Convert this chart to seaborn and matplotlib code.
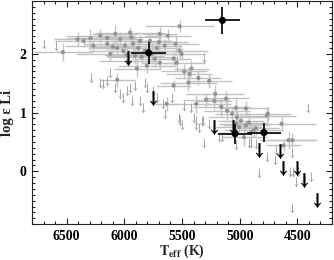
import numpy as np
import pandas as pd
import matplotlib
matplotlib.use("Agg")
import matplotlib.pyplot as plt
import seaborn as sns
from matplotlib.ticker import MultipleLocator

# ---- gray detections (Teff, logeps, xerr, yerr)
gray_teff = [6534, 6406, 6354, 6294, 6208, 6148, 6079, 5951, 6062, 5925, 5865, 6122, 6148,
             6062, 5891, 5805, 5719, 5693, 5521, 5556, 5521, 5504, 5573, 5547, 5436, 5418,
             5358, 5444, 5264, 5573, 5212, 5290, 5221, 5118, 5376, 5633, 5109, 5066, 5024,
             4946, 4921, 5006, 4766, 4637, 4963, 5032, 4946, 4903, 4860, 4577, 4543, 4620,
             4757, 5032, 5994, 5822, 6036, 5908, 5779, 5650, 5736, 5968, 5624, 6268, 5693,
             6010, 5880, 5760, 5940, 6100, 5850, 5700, 5980, 5480, 5160, 4990, 4880]
gray_li = [2.03, 2.25, 2.22, 2.27, 2.31, 2.27, 2.34, 2.36, 2.10, 2.17, 2.22, 2.00, 2.17,
           1.56, 1.75, 1.80, 2.10, 2.34, 2.47, 2.17, 2.05, 2.00, 1.92, 1.85, 1.66, 1.75,
           1.59, 1.51, 1.54, 1.46, 1.32, 1.22, 1.20, 1.24, 1.15, 1.15, 1.03, 0.98, 0.92,
           1.07, 0.83, 0.75, 0.95, 0.81, 0.58, 0.81, 0.78, 0.66, 0.73, 0.53, 0.53, 0.44,
           0.98, 1.08, 2.14, 2.05, 2.25, 1.97, 2.22, 2.14, 1.92, 1.88, 2.31, 2.14, 1.85,
           2.05, 2.10, 2.00, 2.28, 2.12, 1.95, 2.20, 1.98, 1.70, 1.10, 0.86, 0.70]
gray_xerr = [250, 200, 250, 200, 300, 250, 200, 300, 250, 200, 250, 300, 200,
             150, 200, 250, 200, 150, 300, 200, 250, 200, 150, 250, 200, 150,
             200, 250, 200, 150, 250, 200, 150, 200, 300, 100, 200, 150, 250,
             200, 150, 200, 250, 300, 200, 150, 200, 250, 200, 250, 200, 150,
             200, 150, 250, 300, 200, 250, 200, 150, 200, 250, 200, 250, 150,
             300, 250, 200, 250, 200, 300, 250, 200, 200, 250, 200, 250]
gray_yerr = [0.15, 0.12, 0.10, 0.15, 0.12, 0.10, 0.15, 0.10, 0.12, 0.15, 0.10, 0.12, 0.10,
             0.12, 0.15, 0.12, 0.10, 0.12, 0.10, 0.15, 0.12, 0.10, 0.12, 0.15, 0.12, 0.15,
             0.12, 0.15, 0.12, 0.10, 0.15, 0.12, 0.15, 0.12, 0.15, 0.12, 0.15, 0.12, 0.10,
             0.12, 0.15, 0.12, 0.15, 0.12, 0.15, 0.12, 0.10, 0.15, 0.12, 0.15, 0.12, 0.10,
             0.12, 0.15, 0.12, 0.10, 0.12, 0.15, 0.10, 0.12, 0.15, 0.10, 0.12, 0.10, 0.12,
             0.12, 0.10, 0.15, 0.12, 0.10, 0.12, 0.15, 0.12, 0.12, 0.15, 0.12, 0.12]

# ---- gray upper limits
glim_teff = [6697, 6594, 6285, 6208, 6182, 6148, 6122, 6079, 6036, 6011, 5976, 5951, 5933,
             5908, 5865, 5822, 5805, 5753, 5719, 5667, 5839, 5307, 5590, 5487, 5418, 5530,
             5504, 5393, 5315, 5264, 4406, 5650, 5521, 5376, 5324, 5350, 5307, 5178, 5032,
             4921, 5376, 5152, 4903, 4860, 4766, 4697, 4689, 4543, 4835, 4560, 4534, 4491,
             4509, 4448, 4380, 4551]
glim_li = [2.17, 2.14, 1.59, 1.51, 1.49, 1.54, 1.68, 1.42, 1.32, 1.25, 1.37, 1.42, 1.20,
           1.46, 1.20, 1.51, 1.42, 1.37, 1.25, 1.15, 1.08, 1.93, 1.25, 1.12, 1.08, 0.90,
           0.78, 0.90, 0.86, 0.81, 1.07, 0.98, 0.86, 0.86, 0.86, 0.73, 0.49, 0.58, 0.44,
           0.49, 0.78, 0.58, 0.49, 0.47, 0.24, 0.19, 0.36, 0.31, -0.03, -0.02, -0.02, -0.02,
           -0.19, -0.12, -0.10, -0.63]

# ---- black detections
blk_teff = [5150, 5790, 5040, 4790]
blk_li = [2.57, 2.02, 0.64, 0.66]
blk_xerr = [150, 150, 150, 150]
blk_yerr = [0.23, 0.19, 0.17, 0.16]

# ---- black upper limits
blim_teff = [5968, 5753, 5221, 5058, 4835, 4654, 4629, 4500, 4440, 4328]
blim_li = [1.93, 1.25, 0.76, 0.75, 0.36, 0.34, 0.05, 0.05, -0.14, -0.49]

sns.set_theme(style="ticks")
plt.rcParams["font.family"] = ["Liberation Serif", "DejaVu Serif"]
plt.rcParams["font.weight"] = "bold"
plt.rcParams["axes.labelweight"] = "bold"
plt.rcParams["mathtext.fontset"] = "stix"

fig = plt.figure(figsize=(3.34, 2.60), dpi=100)
ax = fig.add_axes([0.096, 0.138, 0.898, 0.858])

ax.errorbar(gray_teff, gray_li, xerr=gray_xerr, yerr=gray_yerr, fmt="none",
            ecolor="#c2c2c2", elinewidth=1.0, capsize=0, zorder=1)
sns.scatterplot(x=gray_teff, y=gray_li, ax=ax, color="#939393", s=9,
                edgecolor="none", zorder=2)
sns.scatterplot(x=glim_teff, y=glim_li, ax=ax, marker=r"$\downarrow$", s=50,
                color="#a8a8a8", edgecolor="#a8a8a8", linewidth=0.0, zorder=2)

ax.errorbar(blk_teff, blk_li, xerr=blk_xerr, yerr=blk_yerr, fmt="none",
            ecolor="#111111", elinewidth=1.3, capsize=0, zorder=4)
sns.scatterplot(x=blk_teff, y=blk_li, ax=ax, color="black", s=26,
                edgecolor="none", zorder=5)
sns.scatterplot(x=blim_teff, y=blim_li, ax=ax, marker=r"$\downarrow$", s=110,
                color="black", edgecolor="black", linewidth=0.25, zorder=5)

ax.set_xlim(6800, 4200)
ax.set_ylim(-0.9, 2.9)
ax.xaxis.set_major_locator(MultipleLocator(500))
ax.xaxis.set_minor_locator(MultipleLocator(100))
ax.yaxis.set_major_locator(MultipleLocator(1))
ax.yaxis.set_minor_locator(MultipleLocator(0.1))
ax.tick_params(which="both", direction="in", top=True, right=True, labelsize=10,
               width=0.8, colors="#222222", labelcolor="black")
ax.tick_params(which="major", length=4, pad=4)
ax.tick_params(which="minor", length=2)
for lab in ax.get_xticklabels() + ax.get_yticklabels():
    lab.set_fontweight("bold")
for sp in ax.spines.values():
    sp.set_linewidth(0.8)
    sp.set_color("#222222")

ax.set_xlabel(r"$\mathbf{T}_{\mathbf{eff}}$ (K)", fontsize=10, labelpad=0)
ax.set_ylabel("log ε Li", fontsize=10.5, labelpad=4)

fig.savefig("out.png", dpi=100)
